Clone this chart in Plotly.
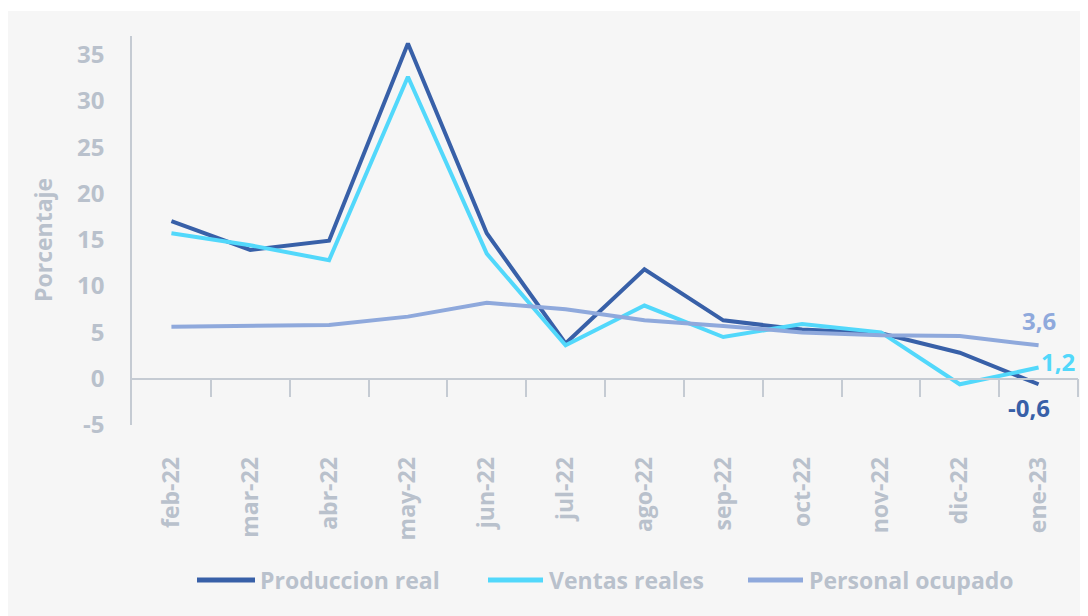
import plotly.graph_objects as go

meses = ["feb-22", "mar-22", "abr-22", "may-22", "jun-22", "jul-22",
         "ago-22", "sep-22", "oct-22", "nov-22", "dic-22", "ene-23"]
produccion_real = [17.0, 13.9, 14.9, 36.2, 15.7, 3.8, 11.8, 6.3, 5.3, 4.9, 2.8, -0.6]
ventas_reales = [15.7, 14.4, 12.8, 32.6, 13.5, 3.6, 7.9, 4.5, 5.9, 5.0, -0.6, 1.2]
personal_ocupado = [5.6, 5.7, 5.8, 6.7, 8.2, 7.5, 6.3, 5.7, 5.0, 4.7, 4.6, 3.6]
y_ticks = [-5, 0, 5, 10, 15, 20, 25, 30, 35]
y_tick_text = ["-5", "0", "5", "10", "15", "20", "25", "30", "35"]
series_names = ["Produccion real", "Ventas reales", "Personal ocupado"]
y_title = "Porcentaje"

C_PROD = "#3860a8"
C_VENT = "#52d8fb"
C_PERS = "#8fa9dc"
GREY = "#b9c1cc"
AXIS = "#c5cbd3"
BG = "#f6f6f6"
FONT = "Open Sans"

W, H = 1080, 608
ML, MR, MT, MB = 124, 10, 28, 191
PW = W - ML - MR
PH = H - MT - MB

def px_x(x):
    return (x - ML) / PW

def px_y(y):
    return (H - MB - y) / PH

xs = list(range(len(meses)))
colors = [C_PROD, C_VENT, C_PERS]
series = [produccion_real, ventas_reales, personal_ocupado]

fig = go.Figure()
for name, vals, col in zip(series_names, series, colors):
    fig.add_trace(go.Scatter(x=xs, y=vals, mode="lines", name=name,
                             line=dict(color=col, width=4),
                             showlegend=False, hoverinfo="skip"))

def fmt(v):
    return f"{v:.1f}".replace(".", ",")

last = len(meses) - 1
fig.add_annotation(x=last, y=personal_ocupado[last], text=fmt(personal_ocupado[last]),
                   showarrow=False, yshift=25,
                   font=dict(family=FONT, size=24, color=C_PERS, weight="bold"))
fig.add_annotation(x=last, y=ventas_reales[last], text=fmt(ventas_reales[last]),
                   showarrow=False, xanchor="left", xshift=0, yshift=6,
                   font=dict(family=FONT, size=24, color=C_VENT, weight="bold"))
fig.add_annotation(x=last, y=produccion_real[last], text=fmt(produccion_real[last]),
                   showarrow=False, xshift=-10, yshift=-23,
                   font=dict(family=FONT, size=24, color=C_PROD, weight="bold"))

# y-axis title
fig.add_annotation(xref="paper", yref="paper", x=px_x(35), y=px_y(232),
                   text=y_title, textangle=-90, showarrow=False,
                   xanchor="center", yanchor="middle",
                   font=dict(family=FONT, size=23, color=GREY, weight="bold"))

# grey card background
fig.add_shape(type="rect", xref="paper", yref="paper",
              x0=px_x(-20), x1=px_x(W + 20), y0=px_y(H + 20), y1=px_y(3),
              fillcolor=BG, line=dict(width=0), layer="below")

# legend (manual, to match sample length and spacing)
leg_y = 572
leg_items = [(189, 247, 250), (480, 535, 539), (740, 795, 799)]
for (xa, xb, xt), name, col in zip(leg_items, series_names, colors):
    fig.add_shape(type="line", xref="paper", yref="paper",
                  x0=px_x(xa), x1=px_x(xb), y0=px_y(leg_y), y1=px_y(leg_y),
                  line=dict(color=col, width=5))
    fig.add_annotation(xref="paper", yref="paper", x=px_x(xt), y=px_y(leg_y),
                       text=name, showarrow=False, xanchor="left", yanchor="middle",
                       font=dict(family=FONT, size=23, color=GREY, weight="bold"))

y0, y1 = -5, 37
fig.update_layout(
    width=W, height=H,
    margin=dict(l=ML, r=MR, t=MT, b=MB),
    paper_bgcolor="white",
    plot_bgcolor=BG,
    font=dict(family=FONT, color=GREY),
    showlegend=False,
    xaxis=dict(range=[-0.5, len(meses) - 0.5], tickvals=xs, ticktext=meses,
               tickangle=-90, showgrid=False, zeroline=False, showline=False,
               ticks="outside", ticklen=22, tickcolor="rgba(0,0,0,0)",
               tickfont=dict(family=FONT, size=23, color=GREY, weight="bold")),
    xaxis2=dict(overlaying="x", anchor="free", position=(0 - y0) / (y1 - y0),
                range=[-0.5, len(meses) - 0.5],
                tickvals=[i - 0.5 for i in range(1, len(meses) + 1)],
                showticklabels=False, ticks="outside", ticklen=18, tickwidth=1.5,
                tickcolor=AXIS, showline=True, linecolor=AXIS, linewidth=1.5,
                showgrid=False, zeroline=False, side="bottom"),
    yaxis=dict(range=[y0, y1], tickvals=y_ticks, ticktext=y_tick_text,
               showgrid=False, zeroline=False,
               showline=True, linecolor=AXIS, linewidth=1.5,
               ticks="outside", ticklen=21, tickcolor="rgba(0,0,0,0)",
               tickfont=dict(family=FONT, size=24, color=GREY, weight="bold")),
)

fig.add_trace(go.Scatter(x=[0], y=[0], xaxis="x2", mode="markers",
                         marker=dict(opacity=0), showlegend=False, hoverinfo="skip"))

fig.write_html("out.html")
